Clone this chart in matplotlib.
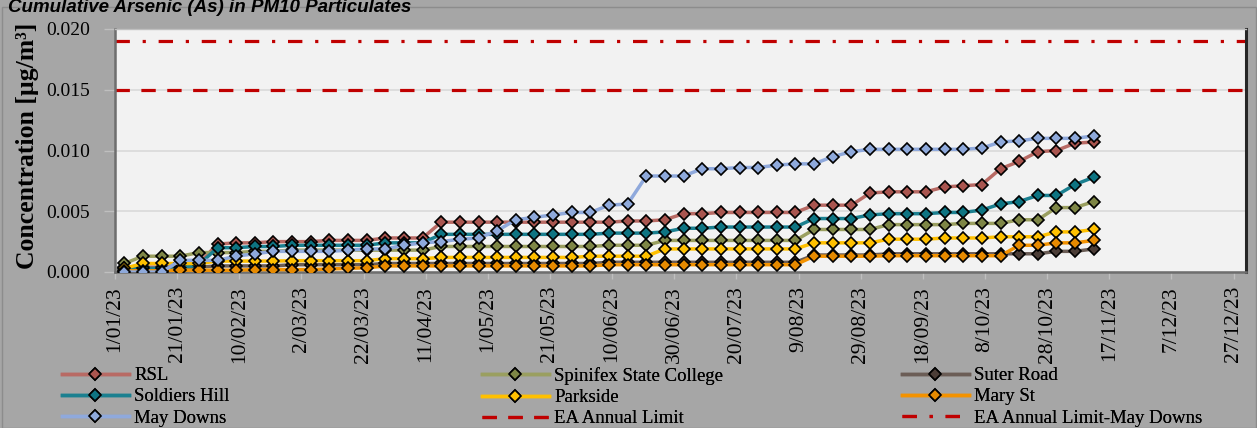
import matplotlib
matplotlib.use("Agg")
import matplotlib.pyplot as plt
import matplotlib.dates as mdates
from matplotlib.ticker import FuncFormatter, FixedLocator
from matplotlib.patches import Rectangle
import numpy as np
import datetime as dt

# ---------------- data ----------------
sample_dates = [
    "2023-01-04", "2023-01-10", "2023-01-16", "2023-01-22", "2023-01-28",
    "2023-02-03", "2023-02-09", "2023-02-15", "2023-02-21", "2023-02-27",
    "2023-03-05", "2023-03-11", "2023-03-17", "2023-03-23", "2023-03-29",
    "2023-04-04", "2023-04-10", "2023-04-16", "2023-04-22", "2023-04-28",
    "2023-05-04", "2023-05-10", "2023-05-16", "2023-05-22", "2023-05-28",
    "2023-06-03", "2023-06-09", "2023-06-15", "2023-06-21", "2023-06-27",
    "2023-07-03", "2023-07-09", "2023-07-15", "2023-07-21", "2023-07-27",
    "2023-08-02", "2023-08-08", "2023-08-14", "2023-08-20", "2023-08-26",
    "2023-09-01", "2023-09-07", "2023-09-13", "2023-09-19", "2023-09-25",
    "2023-10-01", "2023-10-07", "2023-10-13", "2023-10-19", "2023-10-25",
    "2023-10-31", "2023-11-06", "2023-11-12",
]

rsl = [0.0004, 0.0004, 0.0004, 0.0006, 0.0007, 0.0023, 0.0024, 0.0024, 0.0025, 0.0025,
       0.0025, 0.0026, 0.0026, 0.0026, 0.0028, 0.0028, 0.0028, 0.0041, 0.0041, 0.0041,
       0.0041, 0.0041, 0.0041, 0.0041, 0.0041, 0.0041, 0.0041, 0.0042, 0.0042, 0.0043,
       0.0048, 0.0048, 0.0049, 0.0049, 0.0049, 0.0049, 0.0049, 0.0055, 0.0055, 0.0055,
       0.0065, 0.0066, 0.0066, 0.0066, 0.0070, 0.0071, 0.0072, 0.0085, 0.0091, 0.0099,
       0.0100, 0.0106, 0.0107]

spinifex = [0.0007, 0.0013, 0.0013, 0.0013, 0.0016, 0.0016, 0.0016, 0.0017, 0.0017, 0.0018,
            0.0018, 0.0018, 0.0018, 0.0018, 0.0018, 0.0018, 0.0018, 0.0021, 0.0021, 0.0021,
            0.0021, 0.0021, 0.0021, 0.0021, 0.0021, 0.0021, 0.0022, 0.0022, 0.0022, 0.0026,
            0.0026, 0.0026, 0.0026, 0.0026, 0.0026, 0.0026, 0.0026, 0.0035, 0.0035, 0.0035,
            0.0035, 0.0039, 0.0039, 0.0039, 0.0039, 0.0040, 0.0040, 0.0040, 0.0043, 0.0043,
            0.0053, 0.0053, 0.0058]

suter = [0.0002, 0.0002, 0.0002, 0.0003, 0.0004, 0.0005, 0.0005, 0.0005, 0.0005, 0.0006,
         0.0006, 0.0006, 0.0006, 0.0006, 0.0007, 0.0007, 0.0007, 0.0007, 0.0007, 0.0007,
         0.0007, 0.0007, 0.0007, 0.0007, 0.0007, 0.0007, 0.0008, 0.0008, 0.0008, 0.0008,
         0.0008, 0.0008, 0.0008, 0.0008, 0.0008, 0.0008, 0.0008, 0.0014, 0.0014, 0.0014,
         0.0014, 0.0015, 0.0015, 0.0015, 0.0015, 0.0015, 0.0015, 0.0015, 0.0015, 0.0015,
         0.0017, 0.0017, 0.0019]

soldiers = [0.0003, 0.0003, 0.0003, 0.0003, 0.0006, 0.0020, 0.0020, 0.0021, 0.0021, 0.0022,
            0.0022, 0.0022, 0.0022, 0.0022, 0.0024, 0.0024, 0.0024, 0.0031, 0.0031, 0.0031,
            0.0031, 0.0031, 0.0031, 0.0031, 0.0031, 0.0031, 0.0032, 0.0032, 0.0032, 0.0033,
            0.0036, 0.0036, 0.0037, 0.0037, 0.0037, 0.0037, 0.0037, 0.0044, 0.0044, 0.0044,
            0.0047, 0.0048, 0.0048, 0.0048, 0.0049, 0.0049, 0.0051, 0.0056, 0.0058, 0.0063,
            0.0063, 0.0072, 0.0078]

parkside = [0.0003, 0.0007, 0.0007, 0.0007, 0.0007, 0.0009, 0.0009, 0.0009, 0.0009, 0.00093,
            0.00093, 0.00093, 0.00093, 0.00093, 0.0011, 0.0011, 0.0011, 0.0012, 0.0012, 0.0012,
            0.0012, 0.0012, 0.0012, 0.0012, 0.0012, 0.0013, 0.0013, 0.0013, 0.0013, 0.0019,
            0.0019, 0.0019, 0.0019, 0.0019, 0.0019, 0.0019, 0.0019, 0.0024, 0.0024, 0.0024,
            0.0024, 0.0027, 0.0027, 0.0027, 0.0028, 0.0028, 0.0028, 0.0029, 0.0029, 0.0029,
            0.0033, 0.0033, 0.0035]

mary_st = [0.0001, 0.0001, 0.0001, 0.00015, 0.00015, 0.00015, 0.00015, 0.0002, 0.0002, 0.0002,
           0.0002, 0.00025, 0.0003, 0.00035, 0.0005, 0.0005, 0.0005, 0.0005, 0.0005, 0.0005,
           0.0005, 0.0005, 0.0005, 0.0005, 0.0005, 0.0005, 0.0006, 0.0006, 0.0006, 0.0006,
           0.0006, 0.0006, 0.0006, 0.0006, 0.0006, 0.0006, 0.0006, 0.0013, 0.0013, 0.0013,
           0.0013, 0.00134, 0.00134, 0.00134, 0.00134, 0.00134, 0.00134, 0.00134, 0.0022, 0.0022,
           0.0024, 0.0024, 0.0026]

may_downs = [0.0000, 0.0000, 0.0000, 0.00096, 0.00096, 0.00096, 0.0013, 0.0015, 0.0017, 0.0017,
             0.0017, 0.0017, 0.0018, 0.0019, 0.0019, 0.0022, 0.0024, 0.0025, 0.0027, 0.0028,
             0.0034, 0.0043, 0.0045, 0.0047, 0.0049, 0.0049, 0.0055, 0.0056, 0.0079, 0.0079,
             0.0079, 0.0085, 0.0085, 0.0086, 0.0086, 0.0088, 0.0089, 0.0089, 0.0095, 0.0099,
             0.0101, 0.0101, 0.0101, 0.0101, 0.0101, 0.0101, 0.0102, 0.0107, 0.0108, 0.0110,
             0.0110, 0.0110, 0.0112]

ea_annual_limit = 0.015
ea_annual_limit_may_downs = 0.019

series_names = ["RSL", "Spinifex State College", "Suter Road", "Soldiers Hill",
                "Parkside", "Mary St", "May Downs"]
tick_dates = ["2023-01-01", "2023-01-21", "2023-02-10", "2023-03-02", "2023-03-22",
              "2023-04-11", "2023-05-01", "2023-05-21", "2023-06-10", "2023-06-30",
              "2023-07-20", "2023-08-09", "2023-08-29", "2023-09-18", "2023-10-08",
              "2023-10-28", "2023-11-17", "2023-12-07", "2023-12-27"]
title = "Cumulative Arsenic (As) in PM10 Particulates"

# ---------------- styling ----------------
W, H = 1257, 428
fig = plt.figure(figsize=(W / 100, H / 100), dpi=100, facecolor="#A6A6A6")
SERIF = ["Liberation Serif", "DejaVu Serif"]

# chart-area frame
fig.patches.append(Rectangle((2 / W, 0), (W - 3) / W, 1 - 7 / H, transform=fig.transFigure,
                             fill=False, edgecolor="#8C8C8C", lw=1))

ax = fig.add_axes([115 / W, 1 - 272 / H, (1246 - 115) / W, (272 - 29) / H])
ax.set_facecolor("#F2F2F2")

x = [dt.datetime.strptime(d, "%Y-%m-%d") for d in sample_dates]

styles = [
    (rsl, "#B86A64", "#A9554F"),
    (spinifex, "#9A9F60", "#7E8646"),
    (suter, "#6B5D56", "#4B3D37"),
    (soldiers, "#1B8090", "#0E7482"),
    (parkside, "#FFC000", "#FFC000"),
    (mary_st, "#F39200", "#E68A00"),
    (may_downs, "#8FA9DC", "#8EA9DB"),
]
handles = []
for name, (vals, lc, mc) in zip(series_names, styles):
    h, = ax.plot(x, vals, color=lc, lw=2.5, marker="D", ms=6.6, mfc=mc, mec="black",
                 mew=1.2, label=name, solid_joinstyle="round", zorder=3)
    handles.append(h)

h_ea = ax.axhline(ea_annual_limit, color="#C00000", lw=2.3, dashes=(4.5, 3.6),
                  label="EA Annual Limit", zorder=2)
h_eam = ax.axhline(ea_annual_limit_may_downs, color="#C00000", lw=2.3,
                   dashes=(4.5, 4.0, 1.0, 4.0), label="EA Annual Limit-May Downs", zorder=2)

ax.set_xlim(dt.datetime(2023, 1, 1), dt.datetime(2023, 12, 31))
ax.set_ylim(0, 0.020)
ax.set_yticks([0.0, 0.005, 0.010, 0.015, 0.020])
ax.yaxis.set_major_formatter(FuncFormatter(lambda v, p: f"{v:.3f}"))
ax.grid(axis="y", color="#D9D9D9", lw=1.2, zorder=0)
ax.set_axisbelow(True)

tks = [mdates.date2num(dt.datetime.strptime(d, "%Y-%m-%d")) for d in tick_dates]
ax.xaxis.set_major_locator(FixedLocator(tks))


def fmt_date(v, p):
    d = mdates.num2date(v)
    return f"{d.day}/{d.month:02d}/{d.year % 100:02d}"


ax.xaxis.set_major_formatter(FuncFormatter(fmt_date))
ax.tick_params(axis="x", direction="out", length=5, width=1, color="#BFBFBF", pad=5,
               labelsize=15.5, labelrotation=90, labelcolor="black")
ax.tick_params(axis="y", direction="out", length=8, width=1, color="#BFBFBF", pad=10,
               labelsize=14, labelcolor="black")
for lab in ax.get_xticklabels() + ax.get_yticklabels():
    lab.set_family(SERIF)

for side, col, lw in [("left", "#6E6E6E", 1.8), ("bottom", "#6E6E6E", 1.8),
                      ("right", "#262626", 2.2), ("top", "#BFBFBF", 1.0)]:
    ax.spines[side].set_color(col)
    ax.spines[side].set_linewidth(lw)

fig.text(28 / W, 1 - 146 / H, "Concentration [µg/m³]", rotation=90, ha="center", va="center",
         fontsize=18.5, fontweight="bold", family=SERIF)

fig.text(8 / W, 1 - 12 / H, title, ha="left", va="baseline", fontsize=13.5,
         fontweight="bold", fontstyle="italic", family=["Liberation Sans", "DejaVu Sans"])

# legend: three columns placed at fixed positions
cols = [[handles[0], handles[3], handles[6]],
        [handles[1], handles[4], h_ea],
        [handles[2], handles[5], h_eam]]
col_x = [62, 482, 902]
for hs, cx in zip(cols, col_x):
    leg = fig.legend(handles=hs, labels=[h.get_label() for h in hs], loc="upper left",
                     bbox_to_anchor=(cx / W, 1 - 367 / H), frameon=False, ncol=1,
                     borderpad=0, borderaxespad=0, handlelength=3.55, handletextpad=0.3,
                     labelspacing=0.22, prop={"family": SERIF, "size": 13.5}, numpoints=1)
    fig.add_artist(leg)

fig.savefig("out.png", dpi=100, facecolor=fig.get_facecolor())
